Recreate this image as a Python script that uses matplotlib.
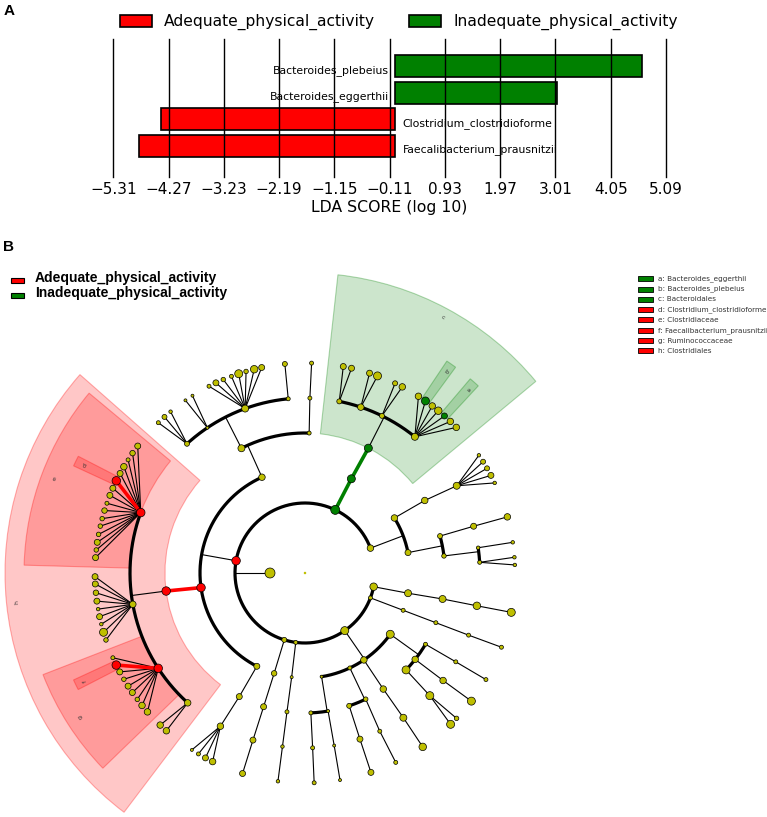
import numpy as np
import matplotlib
matplotlib.use("Agg")
import matplotlib.pyplot as plt
from matplotlib import font_manager
from matplotlib.patches import Wedge, Rectangle

# ---------------- panel A: LDA scores ----------------
species = ["Faecalibacterium_prausnitzii", "Clostridium_clostridioforme",
           "Bacteroides_eggerthii", "Bacteroides_plebeius"]
lda = [-4.83, -4.42, 3.03, 4.64]
bar_group = ["Adequate_physical_activity", "Adequate_physical_activity",
             "Inadequate_physical_activity", "Inadequate_physical_activity"]
tick_vals = [-5.31, -4.27, -3.23, -2.19, -1.15, -0.11, 0.93, 1.97, 3.01, 4.05, 5.09]
groups = ["Adequate_physical_activity", "Inadequate_physical_activity"]
group_colors = {"Adequate_physical_activity": "#ff0000",
                "Inadequate_physical_activity": "#008000"}

# ---------------- panel B: cladogram ----------------
# internal clades: id, parent, level (ring), angle in degrees, node size in px
clades = [
    ("root", None, 0, 0.0, 2.5),
    ("Bacteria", None, 1, 180.0, 10),
    ("p1", "Bacteria", 2, 20.8, 6.5),
    ("Bacteroidetes", "Bacteria", 2, 64.4, 9),
    ("Firmicutes", "Bacteria", 2, 169.9, 8.5),
    ("p4", "Bacteria", 2, 252.8, 5),
    ("p5", "Bacteria", 2, 262.4, 4),
    ("p6", "Bacteria", 2, 304.6, 8),
    ("p7", "Bacteria", 2, 339.2, 4),
    ("p8", "Bacteria", 2, 348.7, 7.5),
    ("c1a", "p1", 3, 31.6, 6.5),
    ("o1a", "c1a", 4, 31.2, 6.5),
    ("f1a", "o1a", 5, 29.9, 7),
    ("c1b", "p1", 3, 11.2, 6),
    ("o1b", "c1b", 4, 15.3, 5),
    ("f1b", "o1b", 5, 15.5, 6),
    ("o1c", "c1b", 4, 7.0, 4.5),
    ("f1c", "o1c", 5, 8.3, 3.5),
    ("f1d", "o1c", 5, 3.5, 4),
    ("Bacteroidia", "Bacteroidetes", 3, 63.8, 8),
    ("Bacteroidales", "Bacteroidia", 4, 63.1, 8),
    ("f2a", "Bacteroidales", 5, 78.7, 5),
    ("f2b", "Bacteroidales", 5, 71.4, 6.5),
    ("f2c", "Bacteroidales", 5, 63.9, 5),
    ("Bacteroidaceae", "Bacteroidales", 5, 51.1, 7),
    ("B_plebeius", "Bacteroidaceae", 6, 55.0, 8),
    ("B_eggerthii", "Bacteroidaceae", 6, 48.4, 6),
    ("c3a", "Firmicutes", 3, 114.2, 6.5),
    ("o3a", "c3a", 4, 117.0, 7),
    ("f3a", "o3a", 5, 132.4, 5),
    ("f3b", "o3a", 5, 123.9, 3),
    ("f3c", "o3a", 5, 110.0, 7),
    ("f3d", "o3a", 5, 95.5, 4),
    ("o3b", "c3a", 4, 88.3, 4),
    ("f3e", "o3b", 5, 88.4, 4),
    ("Clostridia", "Firmicutes", 3, 188.0, 8.5),
    ("Clostridiales", "Clostridia", 4, 187.4, 8.5),
    ("Clostridiaceae", "Clostridiales", 5, 159.8, 8.5),
    ("C_clostridioforme", "Clostridiaceae", 6, 153.96, 8.5),
    ("f3f", "Clostridiales", 5, 190.3, 6.5),
    ("Ruminococcaceae", "Clostridiales", 5, 213.0, 8.5),
    ("F_prausnitzii", "Ruminococcaceae", 6, 206.0, 8.5),
    ("f3g", "Clostridiales", 5, 227.9, 6.5),
    ("c3c", "Firmicutes", 3, 242.7, 6),
    ("o3d", "c3c", 4, 242.0, 6),
    ("f3h", "o3d", 5, 241.1, 6.5),
    ("c4", "p4", 3, 252.9, 5.5),
    ("o4", "c4", 4, 252.8, 6),
    ("f4", "o4", 5, 252.7, 6),
    ("c5", "p5", 3, 262.7, 3),
    ("o5", "c5", 4, 262.6, 4),
    ("f5", "o5", 5, 262.6, 3.5),
    ("c6a", "p6", 3, 324.3, 8),
    ("o6a", "c6a", 4, 329.4, 4),
    ("f6a", "o6a", 5, 329.5, 4),
    ("o6b", "c6a", 4, 321.9, 6.5),
    ("f6b", "o6b", 5, 322.1, 6.5),
    ("o6c", "c6a", 4, 316.2, 8),
    ("f6c", "o6c", 5, 315.5, 8),
    ("c6b", "p6", 3, 304.1, 6.5),
    ("o6d", "c6b", 4, 304.0, 6.5),
    ("f6d", "o6d", 5, 304.2, 7),
    ("c6c", "p6", 3, 295.3, 4),
    ("o6e", "c6c", 4, 295.7, 4.5),
    ("f6e", "o6e", 5, 295.3, 4),
    ("o6f", "c6c", 4, 288.4, 5),
    ("f6f", "o6f", 5, 288.3, 6),
    ("c6d", "p6", 3, 279.1, 3),
    ("o6g", "c6d", 4, 279.5, 3),
    ("f6g", "o6g", 5, 279.6, 3),
    ("o6h", "c6d", 4, 272.4, 4),
    ("f6h", "o6h", 5, 272.5, 4),
    ("c7", "p7", 3, 339.2, 4),
    ("o7", "c7", 4, 339.2, 4),
    ("f7", "o7", 5, 339.2, 4),
    ("c8", "p8", 3, 348.9, 7),
    ("o8", "c8", 4, 349.3, 7),
    ("f8", "o8", 5, 349.2, 7.5),
]

# outer leaves hanging off a clade: angles (deg) and node sizes (px)
leaf_angles = {
    "f1a": [34.1, 32.0, 29.9, 27.7, 25.4],
    "f1b": [15.5],
    "f1c": [8.4],
    "f1d": [4.3, 2.2],
    "f2a": [79.5, 77.2],
    "f2b": [72.1, 69.8],
    "f2c": [64.6, 62.4],
    "Bacteroidaceae": [57.3, 52.7, 50.6, 46.2, 43.9],
    "f3a": [134.3, 132.0, 129.8],
    "f3b": [124.7, 122.4],
    "f3c": [117.2, 115.1, 112.9, 110.5, 108.4, 106.3, 104.0, 101.9],
    "f3d": [95.5],
    "f3e": [88.2],
    "Clostridiaceae": [142.8, 145.2, 147.4, 149.6, 151.7, 156.2, 158.3, 160.6,
                       162.7, 165.0, 167.1, 169.4, 171.6, 173.7, 175.8],
    "f3f": [181.0, 183.0, 185.4, 187.7, 189.9, 192.0, 194.1, 196.4, 198.6],
    "Ruminococcaceae": [203.8, 208.1, 210.4, 212.6, 214.7, 217.0, 219.1, 221.4],
    "f3g": [226.4, 228.7],
    "f3h": [237.4, 239.5, 241.7, 243.9],
    "f4": [252.7],
    "f5": [262.6],
    "f6a": [329.5],
    "f6b": [322.4],
    "f6c": [316.2, 313.9],
    "f6d": [304.1],
    "f6e": [295.6],
    "f6f": [288.3],
    "f6g": [279.6],
    "f6h": [272.5],
    "f7": [339.3],
    "f8": [349.2],
}
leaf_sizes = {
    "f1a": [3.5, 5, 5, 6, 3.5],
    "f1b": [6.5],
    "f1c": [3.5],
    "f1d": [3.5, 3.5],
    "f2a": [6, 6],
    "f2b": [6, 8],
    "f2c": [5, 6.5],
    "Bacteroidaceae": [6.5, 6.5, 7.5, 6.5, 6.5],
    "f3a": [4, 5, 3.5],
    "f3b": [3, 3],
    "f3c": [4, 6, 4.5, 4, 8, 4.5, 7.5, 6],
    "f3d": [5],
    "f3e": [4],
    "Clostridiaceae": [6, 5.5, 4, 6.5, 6, 6, 6, 4, 5.5, 4.5, 4.5, 4.5, 6, 4.5, 6],
    "f3f": [6, 6, 5.5, 6, 3.5, 6, 3.5, 8, 4.5],
    "Ruminococcaceae": [4, 6, 4.5, 6, 6, 4.5, 6.5, 6.5],
    "f3g": [6.5, 6.5],
    "f3h": [3, 4, 6, 6.5],
    "f4": [6],
    "f5": [3.5],
    "f6a": [4],
    "f6b": [8],
    "f6c": [4.5, 8],
    "f6d": [7.5],
    "f6e": [4],
    "f6f": [6],
    "f6g": [3],
    "f6h": [4],
    "f7": [4],
    "f8": [8],
}

red_clades = ["Firmicutes", "Clostridia", "Clostridiales", "Clostridiaceae",
              "Ruminococcaceae", "C_clostridioforme", "F_prausnitzii"]
green_clades = ["Bacteroidetes", "Bacteroidia", "Bacteroidales",
                "B_eggerthii", "B_plebeius"]

marker_letters = ["a", "b", "c", "d", "e", "f", "g", "h"]
marker_names = ["Bacteroides_eggerthii", "Bacteroides_plebeius", "Bacteroidales",
                "Clostridium_clostridioforme", "Clostridiaceae",
                "Faecalibacterium_prausnitzii", "Ruminococcaceae", "Clostridiales"]
marker_clades = ["B_eggerthii", "B_plebeius", "Bacteroidales", "C_clostridioforme",
                 "Clostridiaceae", "F_prausnitzii", "Ruminococcaceae", "Clostridiales"]

YEL = "#bfbf00"
RED = "#ff0000"
GRN = "#008000"


def have_font(name):
    try:
        font_manager.findfont(name, fallback_to_default=False)
        return True
    except ValueError:
        return False


FA = "DejaVu Sans"
FB = "Liberation Sans" if have_font("Liberation Sans") else "DejaVu Sans"

W, H = 767, 817
fig = plt.figure(figsize=(W / 100, H / 100), dpi=100)

# ---- panel A
axA = fig.add_axes([113.3 / W, 1 - 176.7 / H, 552.7 / W, 137.4 / H])
ypos = np.arange(len(species))
axA.barh(ypos, lda, height=0.835, color=[group_colors[g] for g in bar_group],
         edgecolor="black", linewidth=1.2, zorder=1)
axA.set_xlim(tick_vals[0], tick_vals[-1])
axA.set_ylim(-1.164, 4.013)
axA.set_xticks(tick_vals)
axA.set_xticklabels([f"{v:.2f}".replace("-", "\u2212") for v in tick_vals],
                    fontsize=11, family=FA)
axA.tick_params(axis="x", length=0, pad=3.8)
axA.set_yticks([])
axA.set_axisbelow(False)
axA.grid(axis="x", color="black", linewidth=1.0)
for gl in axA.get_xgridlines():
    gl.set_clip_on(False)
for s in axA.spines.values():
    s.set_visible(False)
axA.set_xlabel("LDA SCORE (log 10)", fontsize=11.3, family=FA, labelpad=2)
for y, v, name in zip(ypos, lda, species):
    if v > 0:
        axA.text(-0.12, y - 0.155, name, ha="right", va="center",
                 fontsize=7.8, family=FA, zorder=4)
    else:
        axA.text(0.135, y - 0.155, name, ha="left", va="center",
                 fontsize=7.8, family=FA, zorder=4)

for g, x_rect, x_txt in zip(groups, [120, 408.5], [164, 453.3]):
    fig.patches.append(Rectangle((x_rect / W, 1 - 27.3 / H), 32 / W, 12.3 / H,
                                 transform=fig.transFigure, facecolor=group_colors[g],
                                 edgecolor="black", linewidth=1.2))
    fig.text(x_txt / W, 1 - 22 / H, g, ha="left", va="center",
             fontsize=11.2, family=FA)

fig.text(3.5 / W, 1 - 11 / H, "A", fontsize=11, fontweight="bold", family=FB, va="center")
fig.text(3.5 / W, 1 - 247 / H, "B", fontsize=11, fontweight="bold", family=FB, va="center")

# ---- panel B
R = 35.0
axB = fig.add_axes([0, 0, 1, 587 / H])
axB.set_xlim(-305, W - 305)
axB.set_ylim(-244, 343)
axB.axis("off")

par, lvl, ang, siz = {}, {}, {}, {}
for cid, p, l, a, s in clades:
    par[cid], lvl[cid], ang[cid], siz[cid] = p, l, a, s
for p, angles in leaf_angles.items():
    for j, (a, s) in enumerate(zip(angles, leaf_sizes[p])):
        cid = f"{p}_{j}"
        par[cid], lvl[cid], ang[cid], siz[cid] = p, lvl[p] + 1, a, s
children = {}
for cid, p in par.items():
    if p is not None:
        children.setdefault(p, []).append(cid)


def colour(cid):
    if cid in red_clades:
        return RED
    if cid in green_clades:
        return GRN
    return YEL


def pxy(r, a):
    t = np.deg2rad(a)
    return r * np.cos(t), r * np.sin(t)


def segment(p, c):
    x0, y0 = pxy(lvl[p] * R, ang[p])
    x1, y1 = pxy(lvl[c] * R, ang[c])
    cp, cc = colour(p), colour(c)
    if cp != YEL and cc != YEL:
        axB.plot([x0, x1], [y0, y1], color=cc, lw=2.6, zorder=3,
                 solid_capstyle="butt")
    else:
        axB.plot([x0, x1], [y0, y1], color="black", lw=0.8, zorder=2)


for p, ch in children.items():
    if len(ch) == 1:
        segment(p, ch[0])
    elif any(c in children for c in ch):
        rc = lvl[ch[0]] * R
        x0, y0 = pxy(lvl[p] * R, ang[p])
        x1, y1 = pxy(rc, ang[p])
        axB.plot([x0, x1], [y0, y1], color="black", lw=0.8, zorder=2)
        a_s = [ang[c] for c in ch]
        tt = np.linspace(min(a_s), max(a_s), 300)
        xa, ya = pxy(rc, tt)
        axB.plot(xa, ya, color="black", lw=2.3, zorder=2, solid_capstyle="round")
    else:
        for c in ch:
            segment(p, c)

ids = list(par.keys())
xs, ys = zip(*[pxy(lvl[c] * R, ang[c]) for c in ids])
axB.scatter(xs, ys, s=[(siz[c] * 0.72) ** 2 for c in ids],
            c=[colour(c) for c in ids], edgecolors="black",
            linewidths=[0.0 if c == "root" else 0.5 for c in ids], zorder=4)


def leaf_span(c):
    if c not in children:
        return [ang[c]]
    out = []
    for ch in children[c]:
        out += leaf_span(ch)
    return out


pad = {4: 4.2, 5: 2.6, 6: 1.2}
r_out = {4: 300, 5: 281, 6: 255}
r_lab = {4: 290, 5: 267, 6: 245}
for letter, cid in zip(marker_letters, marker_clades):
    span = leaf_span(cid)
    l = lvl[cid]
    a0, a1 = min(span) - pad[l], max(span) + pad[l]
    col = colour(cid)
    fc = matplotlib.colors.to_rgba(col, 0.22 if col == RED else 0.2)
    ec = matplotlib.colors.to_rgba(col, 0.3)
    axB.add_patch(Wedge((0, 0), r_out[l], a0, a1, width=r_out[l] - l * R,
                        facecolor=fc, edgecolor=ec, linewidth=0.8, zorder=1))
    mid = 0.5 * (a0 + a1)
    lx, ly = pxy(r_lab[l], mid)
    axB.text(lx, ly, letter, fontsize=4.5, rotation=mid - 90, ha="center",
             va="center", color="#333333", zorder=5)

# legends of panel B
for g, yc in zip(groups, [277.7, 292.5]):
    fig.patches.append(Rectangle((11 / W, 1 - (yc + 5.5) / H), 13 / W, 5 / H,
                                 transform=fig.transFigure, facecolor=group_colors[g],
                                 edgecolor="black", linewidth=0.8))
    fig.text(35 / W, 1 - yc / H, g, ha="left", va="center", fontsize=10,
             fontweight="bold", family=FB)

for i, (letter, name, cid) in enumerate(zip(marker_letters, marker_names, marker_clades)):
    yc = 278.7 + 10.3 * i
    fig.patches.append(Rectangle((637.5 / W, 1 - (yc + 2.5) / H), 15 / W, 5 / H,
                                 transform=fig.transFigure, facecolor=colour(cid),
                                 edgecolor="black", linewidth=0.6))
    fig.text(657.7 / W, 1 - yc / H, f"{letter}: {name}", ha="left", va="center",
             fontsize=5.2, color="#333333")

fig.savefig("out.png", dpi=100)
